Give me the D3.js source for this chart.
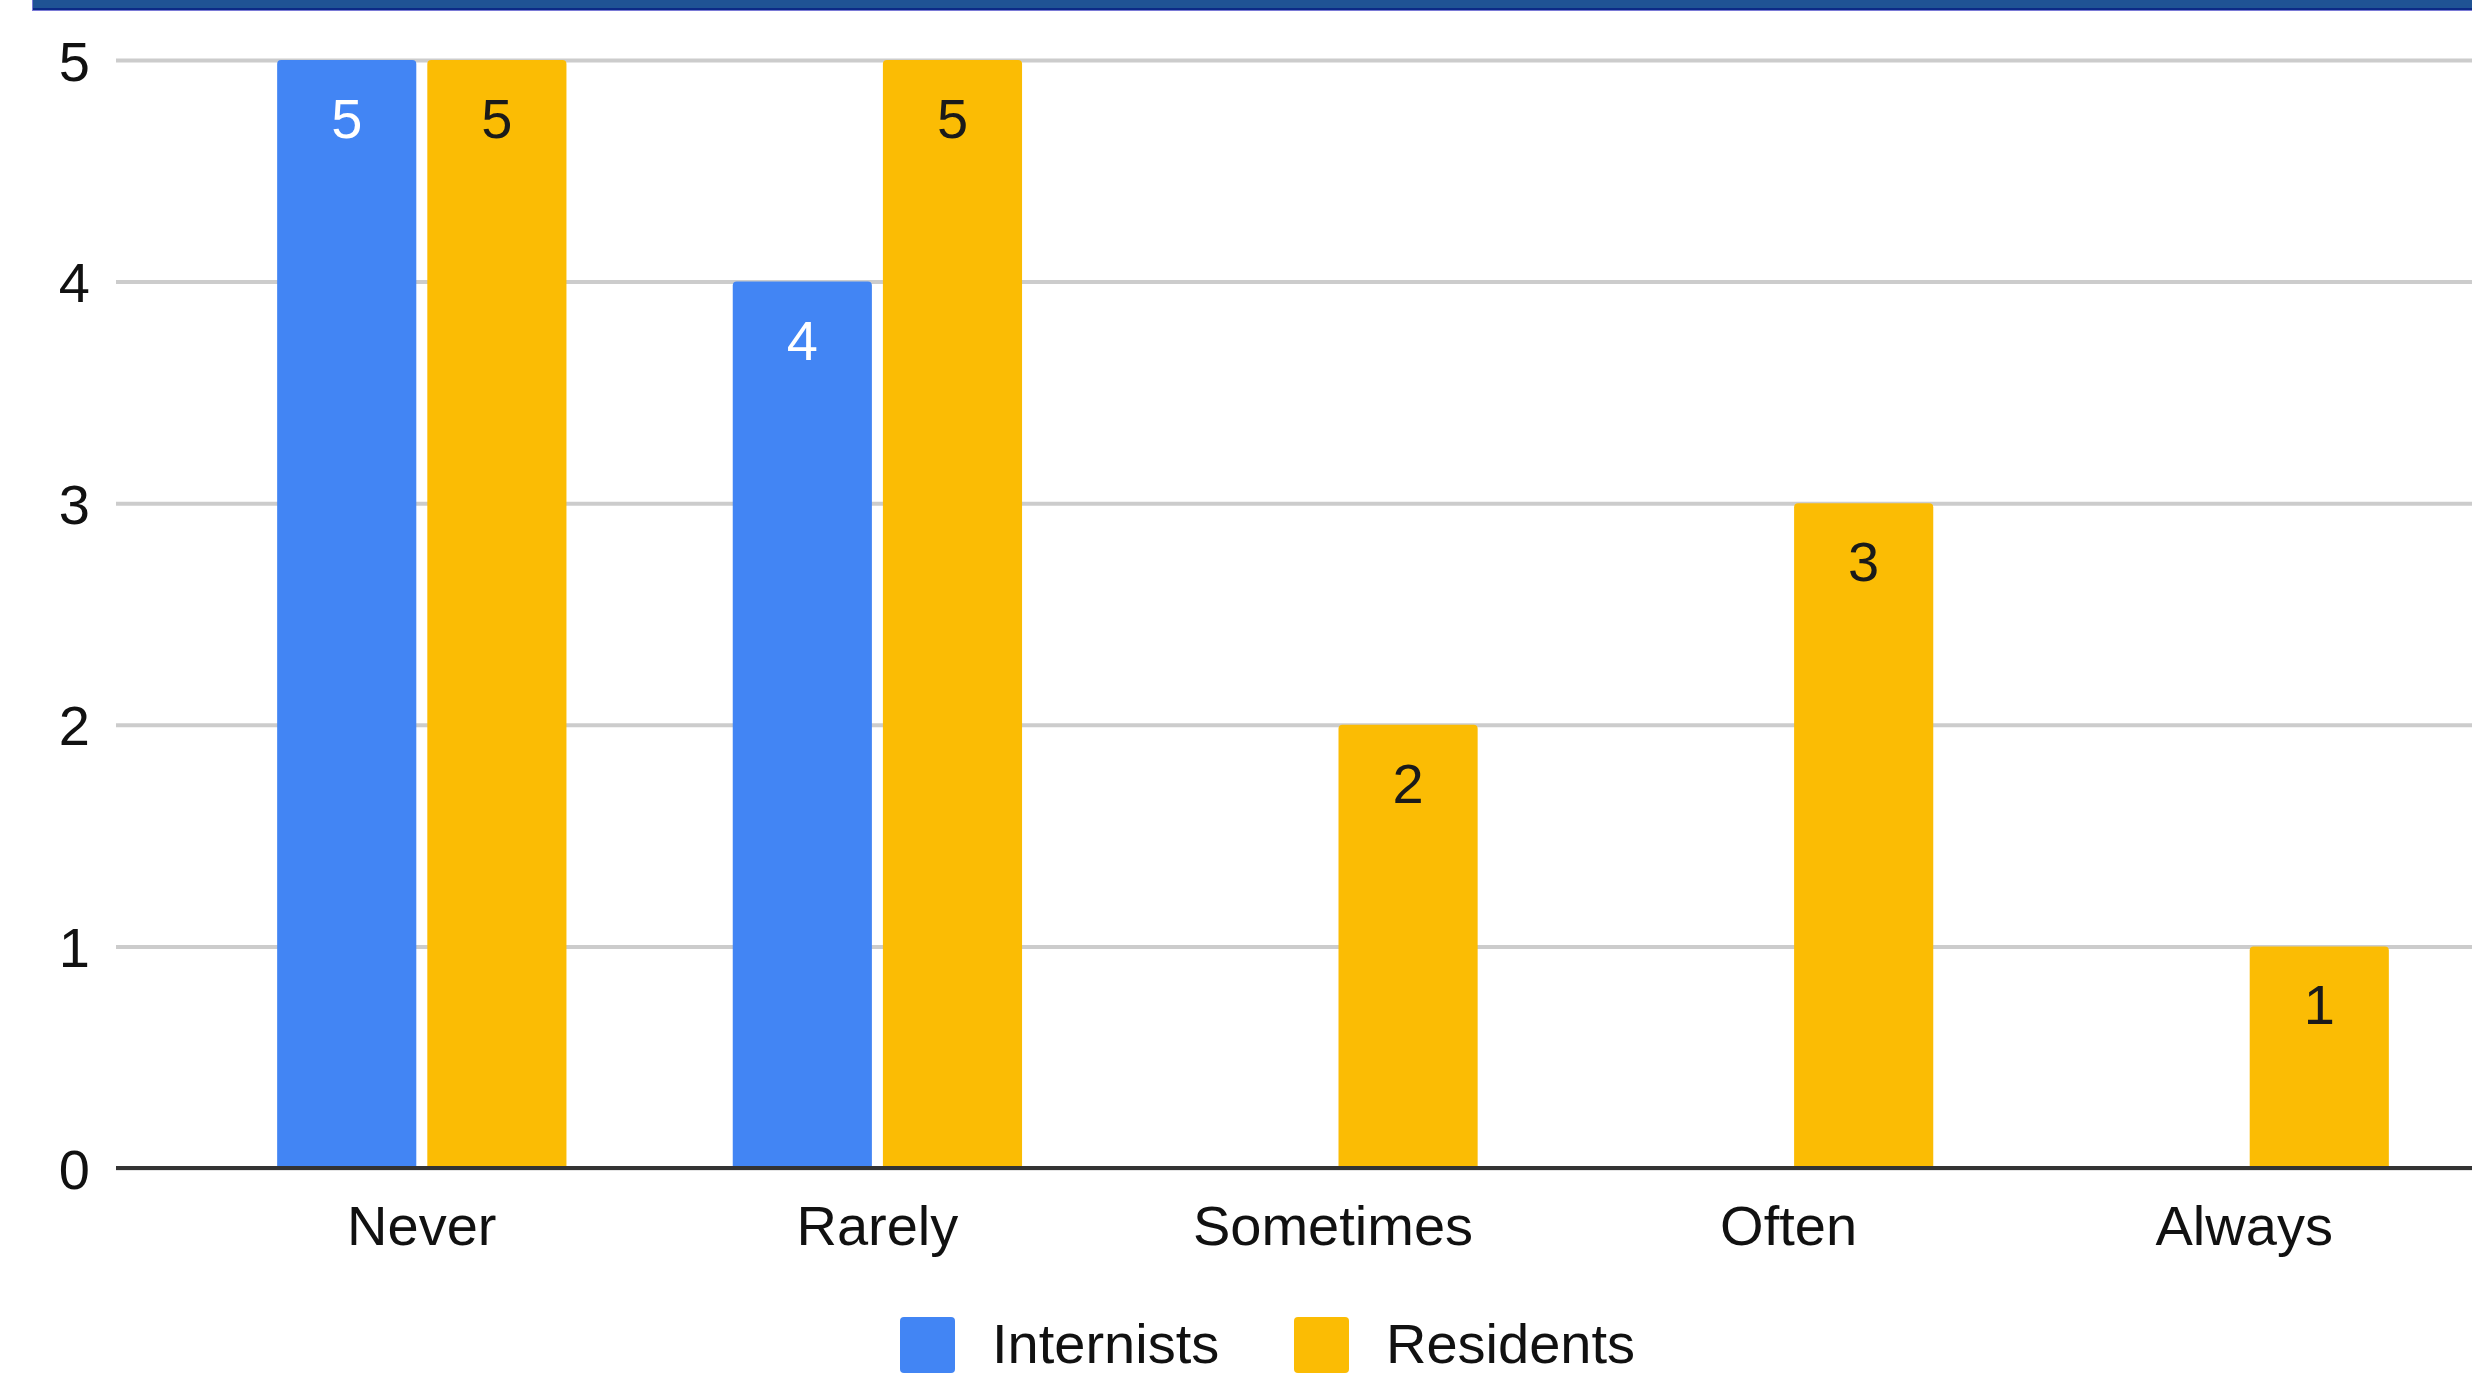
<!DOCTYPE html>
<html>
<head>
<meta charset="utf-8">
<script src="https://cdn.jsdelivr.net/npm/d3@7"></script>
<style>
  html, body { margin: 0; padding: 0; background: #fff; }
  svg { display: block; }
  text { font-family: "Liberation Sans", Arial, sans-serif; }
</style>
</head>
<body>
<svg id="chart" width="2472" height="1376"></svg>
<script>
// Survey answers per frequency category
const categories = ["Never", "Rarely", "Sometimes", "Often", "Always"];
const seriesNames = ["Internists", "Residents"];
const internists = [5, 4, 0, 0, 0];
const residents = [5, 5, 2, 3, 1];
const yTicks = [0, 1, 2, 3, 4, 5];
const seriesColors = ["#4285f4", "#fbbc04"];
const labelColors = ["#ffffff", "#1a1a1a"];

const W = 2472, H = 1376;
const plotLeft = 116, plotRight = W;
const svg = d3.select("#chart");

// Header strip along the top edge
svg.append("rect").attr("x", 32).attr("y", 0).attr("width", W - 32).attr("height", 9).attr("fill", "#1f5394");
svg.append("rect").attr("x", 32).attr("y", 8).attr("width", W - 32).attr("height", 2).attr("fill", "#0c2a86");
svg.append("rect").attr("x", 32).attr("y", 10).attr("width", W - 32).attr("height", 1).attr("fill", "#7a7ad6");
svg.append("rect").attr("x", 32).attr("y", 0).attr("width", 1).attr("height", 11).attr("fill", "#7a7ad6");

const y = d3.scaleLinear().domain([0, 5]).range([1168, 60]);
const x0 = d3.scaleBand().domain(categories).range([194, 2472]).paddingInner(0.365).paddingOuter(0.1825);
const x1 = d3.scaleBand().domain(seriesNames).range([0, x0.bandwidth()]).paddingInner(0.0733).paddingOuter(0);

// Horizontal gridlines with value labels
const yAxis = d3.axisLeft(y).tickValues(yTicks).tickSize(-(plotRight - plotLeft)).tickPadding(26).tickFormat(d3.format("d"));
const gy = svg.append("g").attr("transform", `translate(${plotLeft},0)`).call(yAxis);
gy.select(".domain").remove();
gy.selectAll(".tick line").attr("stroke", "#cccccc").attr("stroke-width", 4);
gy.selectAll(".tick text").attr("font-size", 56).attr("fill", "#111").attr("dy", "0.36em")
  .attr("font-family", "'Liberation Sans', Arial, sans-serif");

// Bars
const rows = categories.map((c, i) => ({ cat: c, vals: [internists[i], residents[i]] }));
const r = 4;
function barPath(x, yTop, w, yBase) {
  const h = yBase - yTop;
  if (h <= 0) return "";
  const rr = Math.min(r, h);
  return `M${x},${yBase}V${yTop + rr}Q${x},${yTop} ${x + rr},${yTop}H${x + w - rr}Q${x + w},${yTop} ${x + w},${yTop + rr}V${yBase}Z`;
}
const groups = svg.append("g").selectAll("g").data(rows).join("g")
  .attr("transform", d => `translate(${x0(d.cat)},0)`);
groups.selectAll("path").data(d => d.vals.map((v, k) => ({ v, k })).filter(e => e.v > 0)).join("path")
  .attr("d", e => barPath(x1(seriesNames[e.k]), y(e.v), x1.bandwidth(), y(0)))
  .attr("fill", e => seriesColors[e.k]);
groups.selectAll("text").data(d => d.vals.map((v, k) => ({ v, k })).filter(e => e.v > 0)).join("text")
  .attr("x", e => x1(seriesNames[e.k]) + x1.bandwidth() / 2)
  .attr("y", e => y(e.v) + 78)
  .attr("text-anchor", "middle")
  .attr("font-size", 56)
  .attr("fill", e => labelColors[e.k])
  .text(e => e.v);

// Category axis
const xAxis = d3.axisBottom(x0).tickSize(0).tickPadding(37);
const gx = svg.append("g").attr("transform", `translate(0,${y(0)})`).call(xAxis);
gx.select(".domain").remove();
gx.selectAll(".tick text").attr("font-size", 56).attr("fill", "#111").attr("dy", "0.71em")
  .attr("font-family", "'Liberation Sans', Arial, sans-serif");
svg.append("line").attr("x1", plotLeft).attr("x2", plotRight).attr("y1", y(0)).attr("y2", y(0))
  .attr("stroke", "#333333").attr("stroke-width", 4);

// Legend
const legendItems = [{ name: seriesNames[0], x: 900 }, { name: seriesNames[1], x: 1294 }];
const lg = svg.append("g").selectAll("g").data(legendItems).join("g")
  .attr("transform", d => `translate(${d.x},1317)`);
lg.append("rect").attr("width", 55).attr("height", 56).attr("rx", 4)
  .attr("fill", (d, i) => seriesColors[i]);
lg.append("text").attr("x", 92).attr("y", 46).attr("font-size", 56).attr("fill", "#111")
  .text(d => d.name);
</script>
</body>
</html>
